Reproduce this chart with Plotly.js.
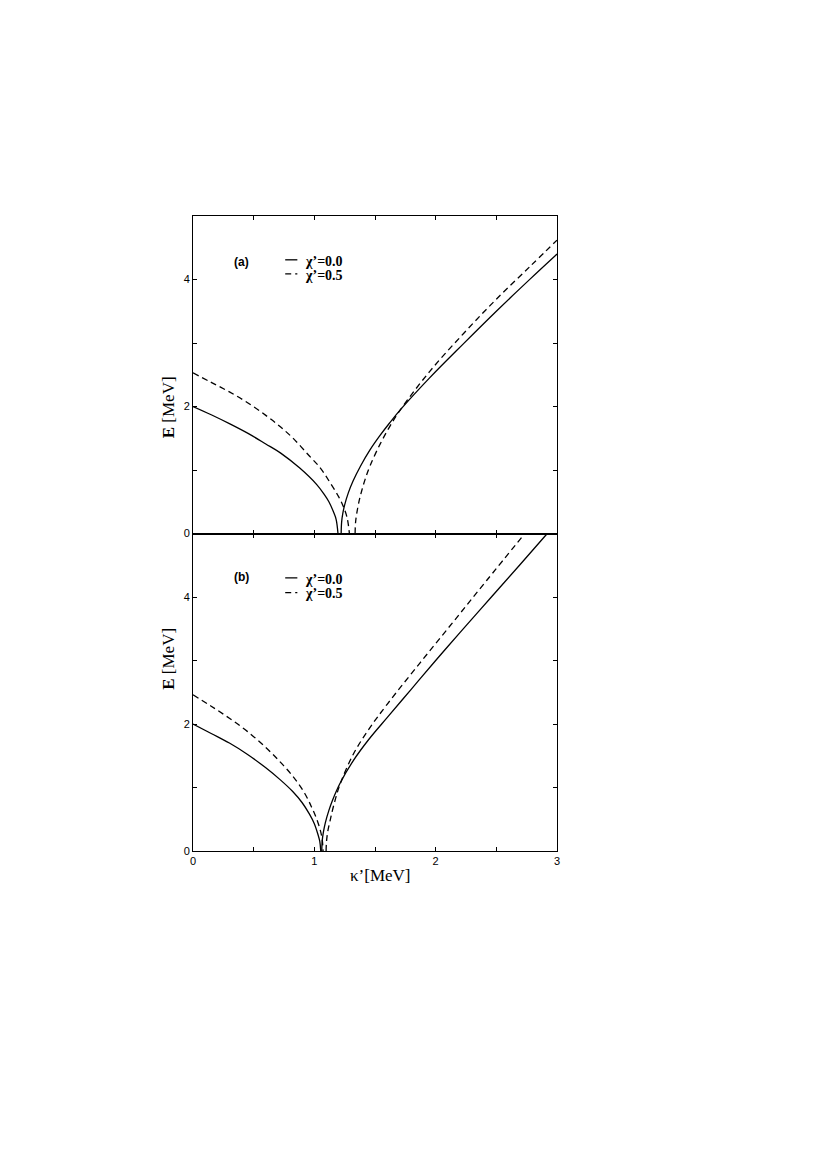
<!DOCTYPE html>
<html>
<head>
<meta charset="utf-8">
<script src="https://cdn.plot.ly/plotly-3.0.1.min.js"></script>
<style>
  html, body { margin: 0; padding: 0; background: #fff; }
  #chart { width: 828px; height: 1170px; }
</style>
</head>
<body>
<div id="chart"></div>
<script>
/* ── data: kappa' [MeV] vs E [MeV] ── */
// panel (a), chi' = 0.0
const A_SOLID_L_K = [0, 0.15, 0.30, 0.45, 0.60, 0.72, 0.88, 1.02, 1.08, 1.12, 1.16, 1.18, 1.195];
const A_SOLID_L_E = [2.00, 1.87, 1.73, 1.58, 1.41, 1.27, 1.03, 0.77, 0.62, 0.50, 0.33, 0.22, 0.0];
const A_SOLID_R_K = [1.221, 1.225, 1.235, 1.25, 1.28, 1.32, 1.38, 1.46, 1.54, 1.62, 1.71, 1.95, 2.23, 2.50, 2.78, 3.00];
const A_SOLID_R_E = [0.0, 0.18, 0.32, 0.45, 0.64, 0.83, 1.06, 1.32, 1.54, 1.74, 1.95, 2.45, 2.99, 3.50, 4.01, 4.40];
// panel (a), chi' = 0.5
const A_DASH_L_K = [0, 0.15, 0.30, 0.45, 0.60, 0.72, 0.83, 0.95, 1.05, 1.13, 1.20, 1.24, 1.27, 1.289];
const A_DASH_L_E = [2.53, 2.38, 2.23, 2.06, 1.86, 1.68, 1.49, 1.24, 1.03, 0.80, 0.58, 0.42, 0.25, 0.0];
const A_DASH_R_K = [1.336, 1.34, 1.35, 1.37, 1.39, 1.42, 1.46, 1.54, 1.62, 1.71, 1.95, 2.23, 2.50, 2.78, 3.00];
const A_DASH_R_E = [0.0, 0.18, 0.32, 0.52, 0.67, 0.86, 1.07, 1.40, 1.68, 1.95, 2.55, 3.15, 3.69, 4.21, 4.62];

// panel (b), chi' = 0.0
const B_SOLID_L_K = [0, 0.15, 0.30, 0.45, 0.60, 0.72, 0.82, 0.90, 0.96, 1.00, 1.03, 1.045, 1.053];
const B_SOLID_L_E = [2.00, 1.85, 1.70, 1.52, 1.31, 1.12, 0.94, 0.76, 0.58, 0.43, 0.26, 0.15, 0.0];
const B_SOLID_R_K = [1.061, 1.065, 1.075, 1.09, 1.12, 1.15, 1.21, 1.32, 1.45, 1.60, 1.80, 2.00, 2.20, 2.45, 2.70, 2.92];
const B_SOLID_R_E = [0.0, 0.16, 0.30, 0.44, 0.64, 0.80, 1.06, 1.42, 1.76, 2.10, 2.55, 3.00, 3.44, 3.98, 4.52, 5.00];
// panel (b), chi' = 0.5
const B_DASH_L_K = [0, 0.15, 0.30, 0.45, 0.60, 0.72, 0.83, 0.92, 0.98, 1.02, 1.05, 1.065, 1.072];
const B_DASH_L_E = [2.46, 2.28, 2.09, 1.88, 1.63, 1.40, 1.16, 0.91, 0.68, 0.50, 0.32, 0.18, 0.0];
const B_DASH_R_K = [1.097, 1.10, 1.11, 1.13, 1.16, 1.21, 1.32, 1.45, 1.60, 1.87, 2.15, 2.42, 2.735];
const B_DASH_R_E = [0.0, 0.14, 0.30, 0.48, 0.72, 1.04, 1.52, 1.92, 2.31, 2.96, 3.62, 4.26, 5.00];

const LEGEND = ["\u03C7\u2019=0.0", "\u03C7\u2019=0.5"];
const PANELS = ["(a)", "(b)"];

/* ── styles ── */
const SERIF = "'Liberation Serif', 'Times New Roman', serif";
const SANS  = "'Liberation Sans', Arial, Helvetica, sans-serif";
const SOLID = { color: '#000', width: 1.3 };
const DASH  = { color: '#000', width: 1.3, dash: '6px,4px' };

// left branch + gap + right branch as one trace
const branch = (lk, le, rk, re) => ({ x: [...lk, null, ...rk], y: [...le, null, ...re] });

function line(d, style, xa, ya) {
  return { x: d.x, y: d.y, xaxis: xa, yaxis: ya, mode: 'lines', connectgaps: false,
           line: { ...style, shape: 'spline', smoothing: 1 }, showlegend: false, hoverinfo: 'skip' };
}

const traces = [
  line(branch(A_SOLID_L_K, A_SOLID_L_E, A_SOLID_R_K, A_SOLID_R_E), SOLID, 'x2', 'y2'),
  line(branch(A_DASH_L_K, A_DASH_L_E, A_DASH_R_K, A_DASH_R_E), DASH, 'x2', 'y2'),
  line(branch(B_SOLID_L_K, B_SOLID_L_E, B_SOLID_R_K, B_SOLID_R_E), SOLID, 'x', 'y'),
  line(branch(B_DASH_L_K, B_DASH_L_E, B_DASH_R_K, B_DASH_R_E), DASH, 'x', 'y')
];

const AX = {
  showline: true, linecolor: '#000', linewidth: 1, mirror: 'allticks',
  ticks: 'inside', ticklen: 4, tickwidth: 1, tickcolor: '#000',
  showgrid: false, zeroline: false,
  tickfont: { family: SANS, size: 11, color: '#000' }
};
const XAX = { ...AX, range: [0, 3], dtick: 1, tick0: 0,
  minor: { dtick: 0.5, ticks: 'inside', ticklen: 4, tickcolor: '#000', showgrid: false } };
const YAX = { ...AX, range: [0, 5], dtick: 2, tick0: 0,
  minor: { dtick: 1, ticks: 'inside', ticklen: 4, tickcolor: '#000', showgrid: false } };

/* ── in-panel labels and legend keys ── */
const annotations = [];
const shapes = [];
[['x2', 'y2', 0], ['x', 'y', 1]].forEach(([xa, ya, i]) => {
  const top = i === 0 ? [4.27, 4.29, 4.07] : [4.31, 4.28, 4.05];
  annotations.push({ xref: xa, yref: ya, x: 0.40, y: top[0], text: '<b>' + PANELS[i] + '</b>',
    showarrow: false, font: { family: SANS, size: 12, color: '#000' } });
  LEGEND.forEach((t, j) => {
    annotations.push({ xref: xa, yref: ya, x: 0.905, y: top[1 + j], text: '<b>' + t + '</b>',
      xanchor: 'left', showarrow: false, font: { family: SERIF, size: 14, color: '#000' } });
    shapes.push({ type: 'line', xref: xa, yref: ya, x0: 0.76, x1: 0.86, y0: top[1 + j] + 0.02, y1: top[1 + j] + 0.02,
      line: j === 0 ? SOLID : DASH });
  });
  annotations.push({ xref: 'paper', yref: 'paper', x: 0, xshift: -36, y: i === 0 ? 0.75 : 0.25,
    text: '<b>E</b> [MeV]', textangle: -90, showarrow: false,
    font: { family: SERIF, size: 17, color: '#000' } });
});
annotations.push({ xref: 'paper', yref: 'paper', x: 0.514, y: 0, yshift: -24, yanchor: 'middle',
  text: '\u03BA\u2019[MeV]', showarrow: false, font: { family: SERIF, size: 17, color: '#000' } });

const layout = {
  width: 828, height: 1170,
  margin: { l: 193, r: 271, t: 216, b: 319 },
  paper_bgcolor: '#fff', plot_bgcolor: '#fff',
  showlegend: false,
  xaxis:  { ...XAX, anchor: 'y' },
  xaxis2: { ...XAX, anchor: 'y2', matches: 'x', showticklabels: false },
  yaxis:  { ...YAX, domain: [0, 0.5], anchor: 'x' },
  yaxis2: { ...YAX, domain: [0.5, 1], anchor: 'x2' },
  annotations, shapes
};

Plotly.newPlot('chart', traces, layout, { staticPlot: true, displayModeBar: false });
</script>
</body>
</html>
